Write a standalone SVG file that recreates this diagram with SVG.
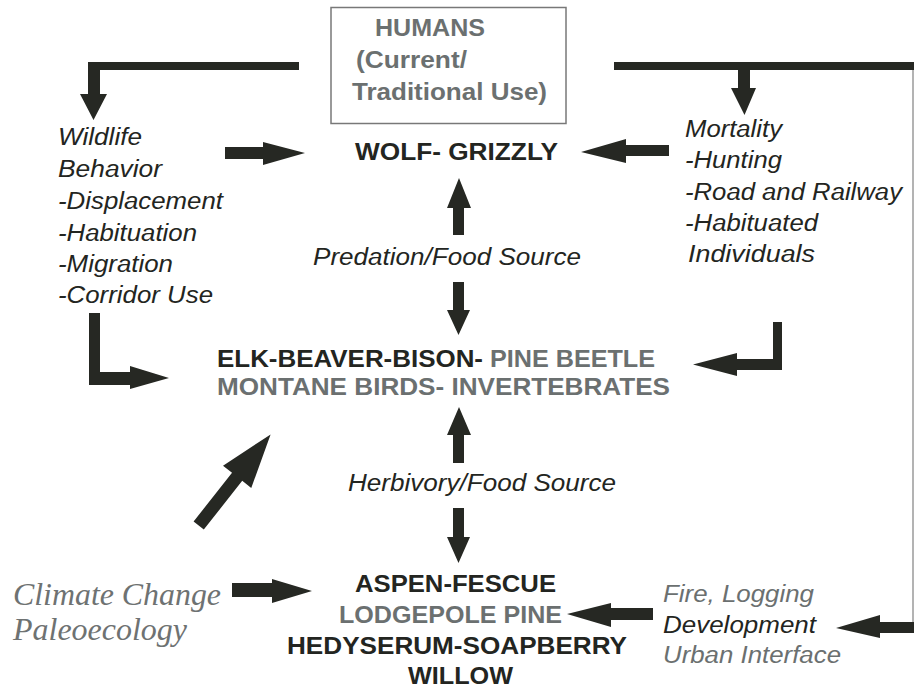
<svg xmlns="http://www.w3.org/2000/svg" width="914" height="690" viewBox="0 0 914 690">
<style>
.b{font-family:"Liberation Sans",Arial,sans-serif;font-weight:bold;font-size:24px}
.i{font-family:"Liberation Sans",Arial,sans-serif;font-style:italic;font-size:23.5px}
.t{font-family:"Liberation Serif","Times New Roman",serif;font-style:italic;font-size:31px}
.dk{fill:#232521}
.gr{fill:#6b7070}
.arr{fill:#262823}
</style>
<rect width="914" height="690" fill="#fff"/>
<g id="humans">
<rect x="331" y="7.5" width="235" height="116" fill="none" stroke="#787878" stroke-width="1.5"/>
<text class="b gr" x="375" y="36" textLength="110" lengthAdjust="spacingAndGlyphs">HUMANS</text>
<text class="b gr" x="356" y="68" textLength="111" lengthAdjust="spacingAndGlyphs">(Current/</text>
<text class="b gr" x="352" y="100" textLength="195" lengthAdjust="spacingAndGlyphs">Traditional Use)</text>
</g>
<g id="wolf">
<text class="b dk" x="355" y="160" textLength="203" lengthAdjust="spacingAndGlyphs">WOLF- GRIZZLY</text>
</g>
<g id="wildlife">
<text class="i dk" x="58" y="145" textLength="84" lengthAdjust="spacingAndGlyphs">Wildlife</text>
<text class="i dk" x="58" y="177" textLength="104" lengthAdjust="spacingAndGlyphs">Behavior</text>
<text class="i dk" x="58" y="209" textLength="165" lengthAdjust="spacingAndGlyphs">-Displacement</text>
<text class="i dk" x="58" y="240.5" textLength="139" lengthAdjust="spacingAndGlyphs">-Habituation</text>
<text class="i dk" x="58" y="272" textLength="115" lengthAdjust="spacingAndGlyphs">-Migration</text>
<text class="i dk" x="58" y="303" textLength="155" lengthAdjust="spacingAndGlyphs">-Corridor Use</text>
</g>
<g id="mortality">
<text class="i dk" x="685" y="137" textLength="97" lengthAdjust="spacingAndGlyphs">Mortality</text>
<text class="i dk" x="685" y="168" textLength="97" lengthAdjust="spacingAndGlyphs">-Hunting</text>
<text class="i dk" x="685" y="200" textLength="217" lengthAdjust="spacingAndGlyphs">-Road and Railway</text>
<text class="i dk" x="685" y="231" textLength="133" lengthAdjust="spacingAndGlyphs">-Habituated</text>
<text class="i dk" x="688" y="262" textLength="127" lengthAdjust="spacingAndGlyphs">Individuals</text>
</g>
<g id="predation">
<text class="i dk" x="313" y="265" textLength="268" lengthAdjust="spacingAndGlyphs">Predation/Food Source</text>
</g>
<g id="elk">
<text class="b dk" x="217" y="367" textLength="266" lengthAdjust="spacingAndGlyphs">ELK-BEAVER-BISON-</text>
<text class="b gr" x="490" y="367" textLength="165" lengthAdjust="spacingAndGlyphs">PINE BEETLE</text>
<text class="b gr" x="217" y="395" textLength="453" lengthAdjust="spacingAndGlyphs">MONTANE BIRDS- INVERTEBRATES</text>
</g>
<g id="herbivory">
<text class="i dk" x="348" y="491" textLength="268" lengthAdjust="spacingAndGlyphs">Herbivory/Food Source</text>
</g>
<g id="aspen">
<text class="b dk" x="355" y="592" textLength="201" lengthAdjust="spacingAndGlyphs">ASPEN-FESCUE</text>
<text class="b gr" x="339" y="623" textLength="223" lengthAdjust="spacingAndGlyphs">LODGEPOLE PINE</text>
<text class="b dk" x="287" y="654" textLength="340" lengthAdjust="spacingAndGlyphs">HEDYSERUM-SOAPBERRY</text>
<text class="b dk" x="408" y="684" textLength="105" lengthAdjust="spacingAndGlyphs">WILLOW</text>
</g>
<g id="climate">
<text class="t" fill="#6e7272" x="13" y="605" textLength="208" lengthAdjust="spacingAndGlyphs">Climate Change</text>
<text class="t" fill="#6e7272" x="13" y="640" textLength="174" lengthAdjust="spacingAndGlyphs">Paleoecology</text>
</g>
<g id="fire">
<text class="i gr" x="663" y="602" textLength="151" lengthAdjust="spacingAndGlyphs">Fire, Logging</text>
<text class="i dk" x="663" y="633" textLength="153" lengthAdjust="spacingAndGlyphs">Development</text>
<text class="i gr" x="663" y="663" textLength="178" lengthAdjust="spacingAndGlyphs">Urban Interface</text>
</g>
<g id="connectors">
<path class="arr" d="M299,62 L88,62 L88,94 L80,94 L93.5,120 L107,94 L100,94 L100,70 L299,70 Z"/>
<path class="arr" d="M225,147 L263,147 L263,142 L305,153 L263,165 L263,159 L225,159 Z"/>
<path class="arr" d="M669,145 L626,145 L626,139 L581,152 L626,163 L626,156 L669,156 Z"/>
<path class="arr" d="M614,62 L914,62 L914,70 L750,70 L750,88 L756,88 L744.5,115 L731,88 L738,88 L738,70 L614,70 Z"/>
<line x1="913" y1="70" x2="913" y2="622" stroke="#9a9a9a" stroke-width="1.5"/>
<path class="arr" d="M914,622 L880,622 L880,615 L836,628 L880,638 L880,633 L914,633 Z"/>
<path class="arr" d="M453,235 L453,208 L447,208 L459,178 L471,208 L464,208 L464,235 Z"/>
<path class="arr" d="M453,282 L453,310 L447,310 L458.5,335 L470,310 L464,310 L464,282 Z"/>
<path class="arr" d="M89,313 L100,313 L100,372 L130,372 L130,366 L169,378 L130,389 L130,385 L89,385 Z"/>
<path class="arr" d="M782,322 L773,322 L773,359 L737,359 L737,353 L693,364.5 L737,376 L737,370 L782,370 Z"/>
<path class="arr" d="M453,463 L453,435 L447,435 L459,407 L471,435 L464,435 L464,463 Z"/>
<path class="arr" d="M453,508 L453,537 L447,537 L458.5,563 L470,537 L464,537 L464,508 Z"/>
<path class="arr" transform="translate(198.7,525.5) rotate(-51.7)" d="M0,-6.5 L62,-6.5 L62,-18 L116,0 L62,18 L62,6.5 L0,6.5 Z"/>
<path class="arr" d="M232,583 L272,583 L272,579 L312,591 L272,603 L272,597 L232,597 Z"/>
<path class="arr" d="M653,608 L611,608 L611,603 L567,614 L611,627 L611,620 L653,620 Z"/>
</g>
</svg>
